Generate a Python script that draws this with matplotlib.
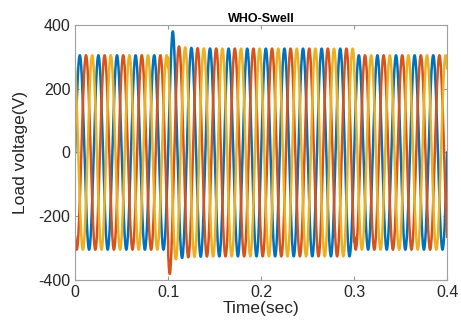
import numpy as np
import matplotlib.pyplot as plt

plt.rcParams['font.family'] = ['Liberation Sans', 'DejaVu Sans']
plt.rcParams['axes.unicode_minus'] = False

# supply and swell settings
f_hz = 50
phase_shift_deg = [0, -120, 120]
phase_colors = ['#0072BD', '#D95319', '#EDB120']

# amplitude (V) per time segment
seg_start = [0.0, 0.1, 0.3]
seg_end = [0.1, 0.3, 0.4]
seg_amp = [305, 326, 305]

# overshoot when the swell starts
t_swell = 0.1
overshoot = 18
overshoot_tau = 0.012
spike_time = [0.105, 0.102, 0.108]
spike_amp = [42, 40, 0]
spike_width = 0.0025

t = np.linspace(0, 0.4, 8001)

amp = np.zeros_like(t)
for s, e, a in zip(seg_start, seg_end, seg_amp):
    amp[(t >= s) & (t <= e)] = a
after = t >= t_swell
amp[after] += overshoot*np.exp(-(t[after]-t_swell)/overshoot_tau)

fig = plt.figure(figsize=(4.61, 3.29), dpi=100)
ax = fig.add_axes([0.163, 0.149, 0.807, 0.775])

for ph, c, ts, sa in zip(phase_shift_deg, phase_colors, spike_time, spike_amp):
    a = amp + sa*np.exp(-((t-ts)/spike_width)**2)
    v = a*np.sin(2*np.pi*f_hz*t + np.deg2rad(ph))
    ax.plot(t, v, color=c, lw=1.8)

ax.set_xlim(0, 0.4)
ax.set_ylim(-400, 400)
ax.set_xticks([0, 0.1, 0.2, 0.3, 0.4])
ax.set_xticklabels(['0', '0.1', '0.2', '0.3', '0.4'])
ax.set_yticks([-400, -200, 0, 200, 400])
ax.tick_params(direction='in', top=True, right=True, length=3,
               color='#999999', labelsize=11.5, labelcolor='#262626')
for sp in ax.spines.values():
    sp.set_color('#a0a0a0')
    sp.set_linewidth(0.8)

ax.set_xlabel('Time(sec)', fontsize=12.5, color='#262626', labelpad=1)
ax.set_ylabel('Load voltage(V)', fontsize=12.5, color='#262626', labelpad=7)
ax.set_title('WHO-Swell', fontsize=9, fontweight='bold', pad=2)

fig.savefig('out.png', dpi=100)
